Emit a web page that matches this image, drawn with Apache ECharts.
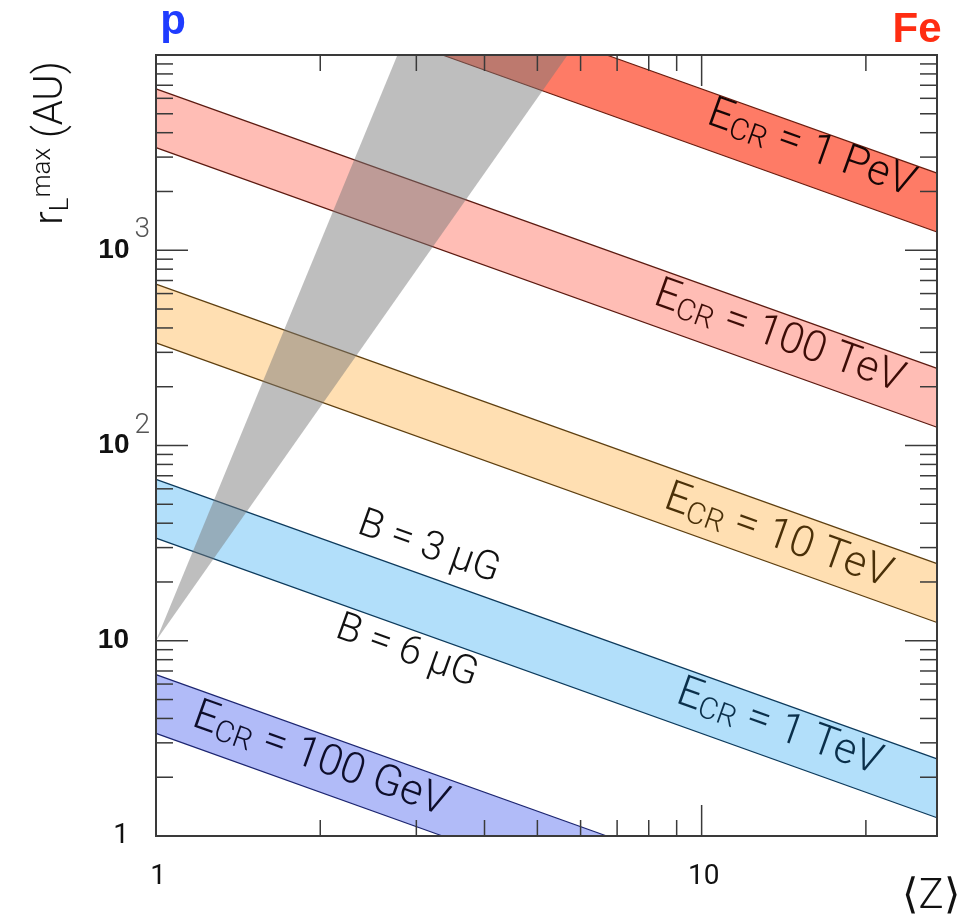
<!DOCTYPE html>
<html><head><meta charset="utf-8">
<script src="https://cdn.jsdelivr.net/npm/echarts@6/dist/echarts.min.js"></script>
<style>html,body{margin:0;padding:0;background:#fff}#c{width:978px;height:918px}</style>
</head><body><div id="c"></div>
<script>
// ---- axis ranges ----
const Z_MIN = 1, Z_MAX = 27;
const R_MIN = 1, R_MAX = 10000;

// ---- bands: E_CR, boundaries read at the plot edges [Z, r_L(AU)] ----
const bandNames = ['100 GeV', '1 TeV', '10 TeV', '100 TeV', '1 PeV'];
const upperB3 = [            // B = 3 μG boundary
  [[1, 6.7], [6.7, 1]],
  [[1, 67], [27, 2.48]],
  [[1, 670], [27, 24.8]],
  [[1, 6700], [27, 248]],
  [[6.7, 10000], [27, 2480]]
];
const lowerB6 = [            // B = 6 μG boundary
  [[1, 3.35], [3.35, 1]],
  [[1, 33.5], [27, 1.24]],
  [[1, 335], [27, 12.4]],
  [[1, 3350], [27, 124]],
  [[3.35, 10000], [27, 1240]]
];
const bandLabelPos = [[2.0, 2.44], [13.86, 3.57], [13.8, 34.0], [13.86, 357], [15.87, 3283]];
const bLabels = ['B = 3 μG', 'B = 6 μG'];
const bLabelPos = [[3.16, 29.9], [2.88, 8.75]];
// grey wedge: apex and the two points where it leaves the top
const wedgePts = [[1, 10], [2.77, 10000], [5.68, 10000]];

// ---- ticks ----
const xMajorTicks = [1, 10];
const xTickLabels = ['1', '10'];
const xMinorTicks = [2, 3, 4, 5, 6, 7, 8, 9, 20];
const yMajorTicks = [1, 10, 100, 1000, 10000];
const yMinorMult = [2, 3, 4, 5, 6, 7, 8, 9];
const yMinorDecades = [1, 10, 100, 1000];

// ---- styles ----
const bandFill = ['#b1bbf8', '#b2dffa', '#ffdfb2', '#ffbdb5', '#fe7b66'];
const bandEdge = ['#1c2570', '#0d3a5c', '#5e3f10', '#5c1a10', '#6a1c0e'];
const bandText = ['#0d0d2a', '#0a2f4a', '#4a3008', '#3d0c06', '#150505'];
const FONT = 'Roboto, "Liberation Sans", "DejaVu Sans", sans-serif';
const BOLD = '"Liberation Sans", Arial, sans-serif';

const yMinorTicks = [];
yMinorDecades.forEach(d => yMinorMult.forEach(m => yMinorTicks.push(m * d)));

const chart = echarts.init(document.getElementById('c'), null, {renderer: 'canvas'});

function isPow10(v) {
  const e = Math.round(Math.log10(v));
  return Math.abs(Math.log10(v) - e) < 1e-6 ? e : null;
}

const option = {
  animation: false,
  backgroundColor: '#fff',
  grid: {left: 156, right: 41, top: 55, bottom: 82},
  xAxis: {
    type: 'log', logBase: 10, min: Z_MIN, max: Z_MAX,
    axisLine: {show: false}, axisTick: {show: false}, splitLine: {show: false},
    minorTick: {show: false}, axisLabel: {show: false}
  },
  yAxis: {
    type: 'log', logBase: 10, min: R_MIN, max: R_MAX,
    axisLine: {show: false}, axisTick: {show: false}, splitLine: {show: false},
    minorTick: {show: false},
    axisLabel: {
      margin: 6, fontFamily: FONT, color: '#111', hideOverlap: false,
      formatter: v => {
        const e = isPow10(v);
        if (e === null || e >= 4) return '';
        if (e === 0) return '{one|1}{pad| }';
        if (e === 1) return '{b|10}{pad| }';
        return '{b|10}{s|' + e + '}';
      },
      rich: {
        one: {fontSize: 28, color: '#111', fontFamily: FONT},
        b: {fontSize: 28, fontWeight: 'bold', color: '#111', fontFamily: BOLD},
        s: {fontSize: 28, fontWeight: 300, color: '#555', fontFamily: FONT, padding: [0, 0, 40, 5]},
        pad: {width: 21, fontSize: 10}
      }
    }
  },
  graphic: [
    {type: 'text', x: 173, y: 22, style: {text: 'p', font: 'bold 42px ' + BOLD, fill: '#1f3cff', align: 'center', verticalAlign: 'middle'}},
    {type: 'text', x: 917, y: 30, style: {text: 'Fe', font: 'bold 42px ' + BOLD, fill: '#ff2d12', align: 'center', verticalAlign: 'middle'}},
    {type: 'text', x: 931, y: 897, style: {text: '\u27E8Z\u27E9', font: '300 42px ' + FONT, fill: '#111', align: 'center', verticalAlign: 'middle'}},
    {type: 'text', x: 52, y: 143, rotation: Math.PI / 2,
      style: {
        text: '{r|r}{l|L}{m|max}{a| (AU)}', align: 'center', verticalAlign: 'middle', fill: '#111',
        rich: {
          r: {fontSize: 40, fontFamily: FONT, fontWeight: 300, fill: '#111', lineHeight: 44},
          l: {fontSize: 26, fontFamily: FONT, fontWeight: 300, fill: '#111', lineHeight: 26, verticalAlign: 'bottom'},
          m: {fontSize: 26, fontFamily: FONT, fontWeight: 300, fill: '#111', lineHeight: 26, verticalAlign: 'top'},
          a: {fontSize: 40, fontFamily: FONT, fontWeight: 300, fill: '#111', lineHeight: 44}
        }
      }}
  ],
  series: [
    {
      type: 'custom', name: 'bands', z: 2,
      data: bandNames.map((n, i) => [
        upperB3[i][0][0], upperB3[i][0][1], upperB3[i][1][0], upperB3[i][1][1],
        lowerB6[i][0][0], lowerB6[i][0][1], lowerB6[i][1][0], lowerB6[i][1][1]
      ]),
      renderItem: (params, api) => {
        const i = params.dataIndex;
        const u0 = api.coord([api.value(0), api.value(1)]);
        const u1 = api.coord([api.value(2), api.value(3)]);
        const l0 = api.coord([api.value(4), api.value(5)]);
        const l1 = api.coord([api.value(6), api.value(7)]);
        return {type: 'group', children: [
          {type: 'polygon', shape: {points: [u0, u1, l1, l0]}, style: {fill: bandFill[i]}},
          {type: 'polyline', shape: {points: [u0, u1]}, style: {stroke: bandEdge[i], lineWidth: 1.3, fill: null}},
          {type: 'polyline', shape: {points: [l0, l1]}, style: {stroke: bandEdge[i], lineWidth: 1.3, fill: null}}
        ]};
      }
    },
    {
      type: 'custom', name: 'wedge', z: 3,
      data: [wedgePts[0].concat(wedgePts[1], wedgePts[2])],
      renderItem: (params, api) => ({
        type: 'polygon',
        shape: {points: [
          api.coord([api.value(0), api.value(1)]),
          api.coord([api.value(2), api.value(3)]),
          api.coord([api.value(4), api.value(5)])
        ]},
        style: {fill: 'rgba(120,120,120,0.48)'}
      })
    },
    {
      type: 'custom', name: 'bandLabels', z: 4,
      data: bandLabelPos.map((p, i) => [p[0], p[1], i]),
      renderItem: (params, api) => {
        const i = api.value(2);
        const p = api.coord([api.value(0), api.value(1)]);
        const a = api.coord([1, 100]), b = api.coord([10, 10]);
        const ang = -Math.atan2(b[1] - a[1], b[0] - a[0]);
        return {
          type: 'text', x: p[0], y: p[1], rotation: ang,
          style: {
            text: '{e|E}{s|CR}{e| = ' + bandNames[i] + '}',
            align: 'center', verticalAlign: 'middle', fill: bandText[i],
            rich: {
              e: {fontSize: 43, fontFamily: FONT, fontWeight: 300, fill: bandText[i], lineHeight: 46},
              s: {fontSize: 30, fontFamily: FONT, fontWeight: 300, fill: bandText[i], lineHeight: 30, verticalAlign: 'bottom'}
            }
          }
        };
      }
    },
    {
      type: 'custom', name: 'bLabels', z: 4,
      data: bLabelPos.map((p, i) => [p[0], p[1], i]),
      renderItem: (params, api) => {
        const i = api.value(2);
        const p = api.coord([api.value(0), api.value(1)]);
        const a = api.coord([1, 100]), b = api.coord([10, 10]);
        const ang = -Math.atan2(b[1] - a[1], b[0] - a[0]);
        return {
          type: 'text', x: p[0], y: p[1], rotation: ang,
          style: {
            text: bLabels[i], align: 'center', verticalAlign: 'middle', fill: '#111',
            font: '300 40px ' + FONT
          }
        };
      }
    },
    {
      type: 'custom', name: 'xTickLabels', z: 6,
      data: xMajorTicks.map((v, i) => [v, R_MIN, i]),
      renderItem: (params, api) => {
        const p = api.coord([api.value(0), api.value(1)]);
        return {
          type: 'text', x: p[0] + 2, y: p[1] + 41,
          style: {text: xTickLabels[api.value(2)], font: '28px ' + FONT, fill: '#111', align: 'center', verticalAlign: 'middle'}
        };
      }
    },
    {
      type: 'custom', name: 'frame', z: 6,
      data: [[Z_MIN, R_MIN]],
      renderItem: (params, api) => {
        const tl = api.coord([Z_MIN, R_MAX]);
        const br = api.coord([Z_MAX, R_MIN]);
        const left = tl[0], top = tl[1], right = br[0], bottom = br[1];
        const st = {stroke: '#3a3a3a', lineWidth: 1.5};
        const ch = [];
        const add = (x1, y1, x2, y2) => ch.push({type: 'line', shape: {x1, y1, x2, y2}, style: st});
        xMajorTicks.forEach(v => { const x = api.coord([v, R_MIN])[0]; add(x, bottom, x, bottom - 31); add(x, top, x, top + 31); });
        xMinorTicks.forEach(v => { const x = api.coord([v, R_MIN])[0]; add(x, bottom, x, bottom - 16); add(x, top, x, top + 16); });
        yMajorTicks.forEach(v => { const y = api.coord([Z_MIN, v])[1]; add(left, y, left + 32, y); add(right, y, right - 32, y); });
        yMinorTicks.forEach(v => { const y = api.coord([Z_MIN, v])[1]; add(left, y, left + 17, y); add(right, y, right - 17, y); });
        ch.push({type: 'rect', shape: {x: left, y: top, width: right - left, height: bottom - top},
          style: {fill: null, stroke: '#3a3a3a', lineWidth: 2}});
        return {type: 'group', children: ch};
      }
    }
  ]
};
chart.setOption(option);
</script>
</body></html>
